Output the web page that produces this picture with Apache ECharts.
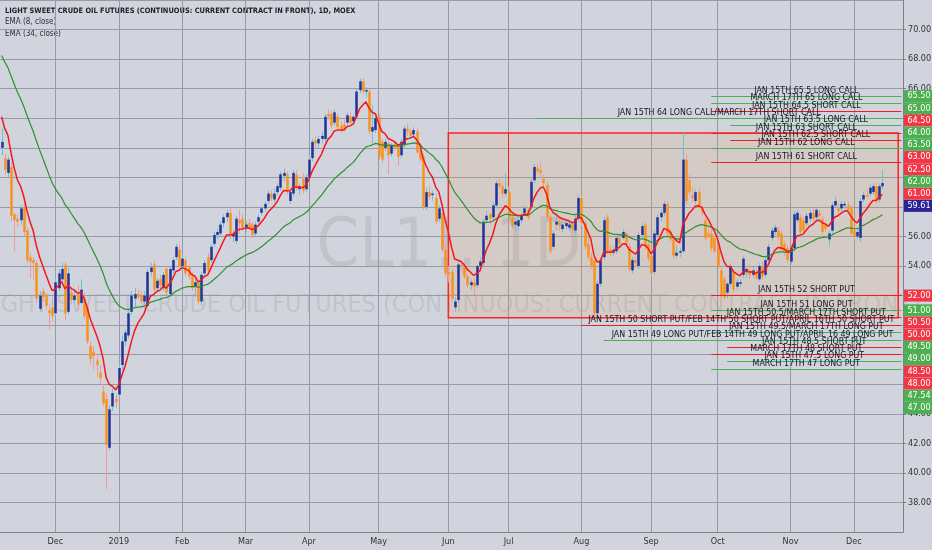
<!DOCTYPE html>
<html>
<head>
<meta charset="utf-8">
<script src="https://cdn.jsdelivr.net/npm/echarts@6/dist/echarts.min.js"></script>
<style>
  html, body { margin: 0; padding: 0; background: #d1d4dc; }
  #main { width: 932px; height: 550px; }
</style>
</head>
<body>
<div id="main"></div>
<script>
// months shown on the time axis and how many daily bars each one holds
var monthKeys  = ['2018-11','2018-12','2019-01','2019-02','2019-03','2019-04','2019-05','2019-06','2019-07','2019-08','2019-09','2019-10','2019-11','2019-12'];
var monthNames = ['Nov','Dec','2019','Feb','Mar','Apr','May','Jun','Jul','Aug','Sep','Oct','Nov','Dec'];
var monthBars  = [17, 20, 20, 20, 20, 22, 22, 19, 23, 22, 21, 23, 20, 10];

// daily bars: [open, high, low, close]
var candles = [
  // Nov 2018
  [62.0,63.3,61.5,62.4],[61.3,61.6,60.2,60.5],[60.3,61.4,60.0,61.2],[60.7,61.0,57.0,57.4],[57.5,57.6,55.0,57.1],
  [57.2,57.5,56.6,57.0],[57.1,58.1,56.8,57.9],[58.0,58.3,56.0,56.3],[56.4,56.6,54.2,54.4],[54.6,54.9,53.2,54.3],
  [54.4,54.6,53.1,54.2],[54.2,54.4,51.5,51.8],[51.1,52.3,50.9,52.0],[52.3,52.5,51.6,51.9],[52.0,52.2,51.0,51.3],
  [51.0,51.4,49.7,50.8],[51.2,51.9,50.2,50.6],
  // Dec 2018
  [50.8,53.2,50.6,52.9],[52.5,53.8,52.3,53.5],[53.1,54.2,52.9,53.8],[54.1,54.3,50.3,50.8],[50.9,53.9,50.7,53.5],
  [52.2,52.6,51.4,51.7],[51.7,52.4,51.5,52.0],[52.1,52.7,51.0,51.4],[51.5,53.1,51.4,52.4],[51.8,52.2,50.4,50.6],
  [51.2,51.4,48.7,48.9],[48.6,48.9,47.3,47.7],[48.2,48.6,47.0,47.9],[47.6,47.9,46.5,47.3],[46.8,47.3,46.0,46.4],
  [45.5,46.0,44.5,44.7],[45.0,45.4,38.9,41.9],[41.7,44.6,41.5,44.3],[44.5,45.7,44.2,45.4],[45.0,45.3,44.4,44.8],
  // Jan 2019
  [45.3,47.4,45.1,47.1],[47.3,49.3,47.0,48.9],[48.9,49.7,48.6,49.5],[49.3,51.0,49.1,50.8],[50.9,52.3,50.7,52.0],
  [51.8,52.5,51.2,52.1],[52.1,52.4,51.7,51.9],[52.0,52.3,51.4,51.6],[51.6,52.3,51.4,52.0],[51.3,53.8,51.2,53.6],
  [53.6,54.2,53.3,53.9],[54.1,54.4,52.2,52.4],[52.5,53.2,52.3,53.0],[53.1,53.4,52.5,52.7],[52.5,53.6,52.3,53.4],
  [53.8,54.0,52.0,52.2],[52.1,54.0,51.9,53.8],[53.7,54.6,53.5,54.4],[54.6,55.5,54.4,55.3],[55.1,55.5,53.8,54.0],
  // Feb
  [54.0,54.7,53.7,54.5],[54.4,54.6,53.3,53.5],[53.9,54.1,53.1,53.3],[53.3,53.6,52.3,52.5],[52.6,53.2,51.9,52.9],
  [52.9,53.0,51.4,51.6],[51.6,53.6,51.3,53.4],[53.5,54.4,53.3,54.2],[54.6,54.9,53.5,53.7],[54.4,55.5,54.2,55.3],
  [55.5,56.3,55.3,56.1],[56.1,56.5,55.8,56.3],[56.2,57.0,56.0,56.8],[56.9,57.5,56.6,57.3],[57.3,57.8,57.0,57.6],
  [57.6,57.9,55.8,56.1],[56.0,56.4,55.6,56.2],[55.7,57.4,55.5,57.2],[57.1,57.8,56.2,56.9],[57.2,57.5,56.4,56.6],
  // Mar
  [56.6,57.0,56.3,56.8],[56.9,57.2,56.4,56.6],[56.8,57.0,55.9,56.1],[56.2,57.0,56.0,56.8],[57.0,57.5,56.8,57.3],
  [57.6,58.1,57.4,57.9],[57.9,58.4,57.7,58.2],[58.4,59.1,58.2,58.9],[58.9,59.1,58.4,58.6],[58.5,59.2,58.3,58.9],
  [59.0,59.6,58.8,59.4],[59.3,60.4,59.1,60.2],[60.1,60.6,59.7,60.3],[60.2,60.4,58.8,59.0],[58.4,59.2,58.2,59.0],
  [58.9,60.5,58.7,60.3],[60.2,60.5,59.1,59.3],[59.2,59.6,58.8,59.4],[59.9,60.3,58.9,59.1],[59.2,60.2,59.0,60.0],
  // Apr
  [60.0,61.5,59.8,61.2],[61.3,62.6,61.1,62.4],[62.5,62.8,62.0,62.3],[62.3,62.8,62.0,62.6],[62.6,63.1,62.3,62.8],
  [62.6,64.3,62.4,64.1],[64.3,64.6,63.9,64.1],[64.3,64.5,63.3,63.5],[63.7,64.6,63.5,64.4],[64.1,64.3,63.2,63.4],
  [63.5,63.8,63.0,63.2],[63.6,63.9,63.1,63.2],[63.7,64.4,63.5,64.2],[64.1,64.4,63.6,63.7],[63.8,64.2,63.6,64.1],
  [64.1,66.0,64.0,65.8],[65.9,66.7,65.7,66.5],[66.5,66.7,65.6,65.8],[65.8,66.1,65.4,65.9],[65.8,66.0,62.9,63.1],
  [63.1,64.9,62.3,63.4],[63.2,64.2,63.0,64.0],
  // May
  [64.1,64.3,61.2,61.4],[62.4,62.6,61.0,61.2],[62.0,62.6,61.8,62.4],[62.3,62.5,60.2,61.5],[61.6,62.3,61.4,62.2],
  [62.2,62.4,61.8,62.0],[62.1,62.3,60.8,61.4],[61.5,62.6,61.3,62.4],[62.2,63.5,62.0,63.3],[63.3,63.6,62.8,63.1],
  [63.1,63.3,62.6,62.8],[62.9,63.4,62.7,63.2],[63.1,63.3,61.6,61.7],[61.8,62.0,61.0,61.2],[61.4,61.6,57.8,58.0],
  [58.0,59.3,57.8,59.0],[59.0,59.4,58.5,58.7],[58.8,59.1,58.4,58.9],[58.6,58.9,56.8,57.0],[57.2,58.1,57.0,57.9],
  [57.6,57.8,54.9,55.1],[55.1,55.4,53.3,53.5],
  // Jun
  [53.6,54.0,52.9,53.4],[53.6,53.8,51.6,51.8],[51.2,51.9,50.9,51.6],[51.7,54.3,51.5,54.1],[54.1,54.4,53.7,54.0],
  [53.9,54.0,53.1,53.3],[53.3,53.5,52.5,52.7],[52.7,53.1,52.4,52.9],[52.9,53.2,52.0,52.6],[52.7,54.1,52.5,54.0],
  [54.0,54.6,53.8,54.3],[54.2,57.2,54.0,57.0],[57.1,57.7,56.9,57.4],[57.5,57.6,56.8,57.2],[57.3,58.3,57.1,58.1],
  [58.1,59.8,57.9,59.6],[59.6,59.9,59.2,59.4],[59.4,59.7,58.6,58.9],[58.9,60.3,58.7,59.2],
  // Jul
  [59.0,59.2,57.1,57.3],[57.3,57.6,56.5,56.7],[56.8,57.3,56.4,57.0],[56.7,57.4,56.4,57.1],[57.1,57.6,56.9,57.4],
  [57.6,58.1,57.5,57.9],[57.8,58.0,57.1,57.3],[58.0,59.9,57.8,59.7],[59.8,60.9,59.6,60.7],[60.6,60.9,60.2,60.4],
  [60.5,61.0,60.1,60.3],[59.9,60.2,59.4,59.6],[59.5,59.7,57.1,57.3],[57.3,57.5,54.8,55.0],[55.3,56.4,55.1,56.2],
  [56.8,57.6,56.4,57.0],[57.0,57.3,56.4,56.7],[56.5,57.0,56.3,56.8],[56.7,57.0,56.5,56.9],[56.6,57.0,56.4,56.8],
  [56.8,57.0,56.3,56.5],[56.4,57.4,56.2,57.2],[57.2,58.8,57.0,58.6],
  // Aug
  [58.6,58.8,56.7,56.9],[56.9,57.1,55.1,55.3],[55.5,56.0,54.4,54.6],[54.6,54.9,53.8,54.0],[54.4,54.6,50.6,50.8],
  [50.8,53.0,50.6,52.8],[52.8,54.6,52.6,54.4],[54.6,57.3,54.4,57.1],[57.3,57.5,54.8,55.0],[55.1,55.4,54.6,54.9],
  [54.9,55.3,54.7,55.1],[55.0,56.0,54.8,55.9],[55.9,56.2,55.3,55.5],[55.9,56.5,55.8,56.3],[56.2,56.4,55.5,55.6],
  [55.3,55.5,53.6,53.8],[53.7,54.6,53.5,54.4],[54.4,54.6,54.0,54.2],[54.0,56.3,53.8,56.1],[56.1,56.9,55.9,56.7],
  [56.8,57.0,55.1,55.3],[55.5,55.7,54.3,54.5],
  // Sep
  [54.7,55.1,53.3,53.5],[53.6,56.4,53.4,56.2],[56.1,57.5,55.9,57.3],[57.3,57.8,57.0,57.6],[57.6,58.4,57.4,58.2],
  [58.2,58.4,56.0,56.2],[56.3,56.5,55.6,55.8],[55.8,56.0,54.5,54.7],[54.7,55.4,54.5,54.9],[54.9,55.2,54.6,55.0],
  [55.0,63.0,54.9,61.2],[61.2,61.6,58.2,58.4],[59.8,60.2,58.8,59.0],[58.8,59.3,58.3,58.6],[58.4,59.2,58.2,59.0],
  [59.0,59.3,57.9,58.1],[57.9,58.1,57.4,57.6],[57.1,57.3,55.7,55.9],[56.2,56.5,55.9,56.0],[56.2,56.5,55.0,55.2],
  [55.9,56.1,54.9,55.0],
  // Oct
  [55.2,55.4,53.8,54.0],[53.7,53.9,51.8,52.0],[53.1,53.3,51.7,51.9],[52.2,52.9,51.8,52.8],[52.8,54.2,52.6,54.0],
  [53.6,53.8,52.2,52.4],[52.6,53.1,52.4,52.9],[52.8,53.1,52.6,52.9],[53.4,54.7,53.2,54.5],[53.6,54.0,53.2,53.8],
  [53.7,54.1,53.1,53.4],[53.4,53.9,53.2,53.7],[53.6,53.8,53.0,53.2],[53.1,54.2,53.0,54.0],[54.0,54.3,53.1,53.3],
  [53.4,54.6,53.2,54.4],[54.4,55.5,54.2,55.3],[55.9,56.6,55.7,56.4],[56.3,56.8,56.1,56.6],[56.4,56.7,55.8,56.0],
  [56.2,56.4,55.0,55.1],[55.5,55.7,54.7,54.9],[55.2,55.4,54.2,54.4],
  // Nov
  [54.3,55.4,54.1,55.2],[55.2,57.7,55.0,57.5],[57.1,57.8,56.9,57.6],[57.3,57.5,56.1,56.3],[57.1,57.3,56.2,56.4],
  [56.9,57.6,56.7,57.4],[57.2,57.8,57.0,57.6],[57.6,57.9,57.0,57.2],[57.3,58.0,57.1,57.8],[57.6,57.8,57.2,57.4],
  [57.2,57.4,56.1,56.3],[56.8,57.0,56.3,56.5],[55.8,56.4,55.3,56.2],[56.4,58.3,56.2,58.1],[58.1,58.7,57.9,58.4],
  [57.9,58.2,57.5,57.7],[57.9,58.4,57.7,58.2],[58.1,58.4,57.9,58.2],[58.1,58.3,57.6,57.8],[57.9,58.1,56.0,56.2],
  // Dec
  [56.4,56.6,55.7,56.0],[56.0,56.5,55.8,56.3],[55.9,58.6,55.6,58.4],[58.5,59.0,58.3,58.8],[58.8,59.1,58.6,58.7],
  [58.9,59.5,58.7,59.3],[59.0,59.6,58.8,59.4],[59.4,59.7,58.2,58.4],[58.5,59.6,58.3,59.4],[59.4,60.5,59.2,59.61]
];
var lastPrice = 59.61;

// EMA values just before the first visible bar
var emaSeed8 = 64.6;
var emaSeed34 = 68.6;

// option strike levels drawn as horizontal lines
var levelValues = [65.5, 65, 64.5, 64, 63.5, 63, 62.5, 62, 61, 52, 51, 50.5, 50, 49.5, 49, 48.5, 48, 47.54, 47];
var levelSides  = ['long','long','short','long','long','short','short','long','short',
                   'short','long','short','short','long','long','short','short','long','long'];
var levelStart  = [224, 224, 224, 169, 230, 224, 230, 224, 224, 224, 224, 224, 183, 224, 190, 229, 224, 229, 224];
var levelTexts  = [
  'JAN 15TH 65.5 LONG CALL',
  'MARCH 17TH 65 LONG CALL',
  'JAN 15TH 64.5 SHORT CALL',
  'JAN 15TH 64 LONG CALL/MARCH 17TH SHORT CALL',
  'JAN 15TH 63.5 LONG CALL',
  'JAN 15TH 63 SHORT CALL',
  'JAN 15TH 62.5 SHORT CALL',
  'JAN 15TH 62 LONG CALL',
  'JAN 15TH 61 SHORT CALL',
  'JAN 15TH 52 SHORT PUT',
  'JAN 15TH 51 LONG PUT',
  'JAN 15TH 50.5/MARCH 17TH SHORT PUT',
  'JAN 15TH 50 SHORT PUT/FEB 14TH 50 SHORT PUT/APRIL 16TH 50 SHORT PUT',
  'JAN 15TH 49.5/MARCH 17TH LONG PUT',
  'JAN 15TH 49 LONG PUT/FEB 14TH 49 LONG PUT/APRIL 16 49 LONG PUT',
  'JAN 15TH 48.5 SHORT PUT',
  'MARCH 17TH 48 SHORT PUT',
  'JAN 15TH 47.5 LONG PUT',
  'MARCH 17TH 47 LONG PUT'
];

// the range box (Jun -> mid Dec, 50.5 .. 63) and the marker line at the start of July
var boxFrom = 141, boxTo = 283, boxLow = 50.5, boxHigh = 63;
var julyMark = 160, julyMarkLow = 59.4;

var padBars = 6;
var NARROW = "'Liberation Sans Narrow', 'DejaVu Sans Condensed', 'Liberation Sans', sans-serif";
var GREEN = '#4caf50', RED = '#f23645', LINE_RED = '#f01e1e';

// build the category axis
var categories = [];
var monthStart = {};
var idx = 0;
monthKeys.forEach(function (k, m) {
    if (m > 0) monthStart[idx] = monthNames[m];
    for (var d = 1; d <= monthBars[m]; d++) {
        categories.push(k + '#' + d);
        idx++;
    }
});
for (var p = 1; p <= padBars; p++) categories.push('pad#' + p);
var lastIndex = categories.length - 1;

function isMonthStart(i) { return monthStart.hasOwnProperty(i); }

function ema(period, seed) {
    var k = 2 / (period + 1);
    var prev = seed;
    return candles.map(function (c) {
        prev = prev + k * (c[3] - prev);
        return +prev.toFixed(3);
    });
}
var ema8 = ema(8, emaSeed8);
var ema34 = ema(34, emaSeed34);

var candleData = candles.map(function (c, i) { return [i, c[0], c[1], c[2], c[3]]; });

function renderCandle(params, api) {
    var i = api.value(0);
    var o = api.value(1), h = api.value(2), l = api.value(3), c = api.value(4);
    var pO = api.coord([i, o]), pC = api.coord([i, c]);
    var pH = api.coord([i, h]), pL = api.coord([i, l]);
    var w = api.size([1, 0])[0] * 0.8;
    var up = c >= o;
    var top = Math.min(pO[1], pC[1]);
    var bot = Math.max(pO[1], pC[1]);
    var x = Math.round(pO[0]) + 0.5;
    return {
        type: 'group',
        children: [
            { type: 'line', shape: { x1: x, y1: pH[1], x2: x, y2: pL[1] },
              style: { stroke: up ? '#6cc3cf' : '#ef9a9a', lineWidth: 1 } },
            { type: 'rect', shape: { x: x - w / 2, y: top, width: w, height: Math.max(bot - top, 1) },
              style: { fill: up ? '#22349a' : '#f7941d' } }
        ]
    };
}

// level lines
var levelLines = levelValues.map(function (v, i) {
    var col = levelSides[i] === 'long' ? GREEN : LINE_RED;
    return [
        { coord: [levelStart[i], v], lineStyle: { color: col, width: 1, type: 'solid' },
          label: { show: true, formatter: levelTexts[i], position: 'insideMiddleTop', distance: 1,
                   color: '#131722', fontSize: 8.8, fontFamily: NARROW } },
        { coord: [lastIndex, v] }
    ];
});
levelLines.push([
    { coord: [julyMark, boxHigh], lineStyle: { color: LINE_RED, width: 1, type: 'solid' }, label: { show: false } },
    { coord: [julyMark, julyMarkLow] }
]);

// price tags on the right scale
var tags = levelValues.map(function (v, i) {
    return { value: v, color: levelSides[i] === 'long' ? GREEN : RED };
});
tags.push({ value: lastPrice, color: '#2b2296' });
tags.sort(function (a, b) { return b.value - a.value; });

function renderTags(params, api) {
    var cs = params.coordSys;
    var x0 = cs.x + cs.width;
    var prev = -Infinity;
    var children = [];
    tags.forEach(function (t) {
        var y = api.coord([0, t.value])[1];
        if (y < prev + 12.2) y = prev + 12.2;
        prev = y;
        children.push({ type: 'rect', shape: { x: x0 + 1, y: y - 6, width: 30, height: 12 },
                        style: { fill: t.color } });
        children.push({ type: 'text', style: { text: t.value.toFixed(2), x: x0 + 16, y: y,
                        align: 'center', verticalAlign: 'middle', fill: '#fff', font: '9px ' + NARROW } });
    });
    return { type: 'group', children: children };
}

var myChart = echarts.init(document.getElementById('main'));

var option = {
    backgroundColor: '#d1d4dc',
    animation: false,
    grid: { left: 0, right: 29, top: 0, bottom: 18, outerBoundsMode: 'none' },
    xAxis: {
        type: 'category',
        data: categories,
        boundaryGap: true,
        axisLine: { show: true, lineStyle: { color: '#7d818b' } },
        axisTick: { show: false, alignWithLabel: true },
        axisLabel: {
            interval: function (i) { return isMonthStart(i); },
            formatter: function (v, i) { return monthStart[i] || ''; },
            color: '#333', fontSize: 9, fontFamily: NARROW, margin: 5
        },
        splitLine: {
            show: true,
            alignWithLabel: true,
            interval: function (i) { return isMonthStart(i); },
            lineStyle: { color: '#969aa4', width: 1 }
        }
    },
    yAxis: {
        type: 'value',
        position: 'right',
        min: 36,
        max: 72,
        interval: 2,
        axisLine: { show: true, lineStyle: { color: '#7d818b' } },
        axisTick: { show: true, length: 3, lineStyle: { color: '#7d818b' } },
        axisLabel: {
            showMinLabel: false,
            showMaxLabel: false,
            formatter: function (v) { return v.toFixed(2); },
            color: '#333', fontSize: 9, fontFamily: NARROW, margin: 5
        },
        splitLine: { show: true, lineStyle: { color: '#969aa4', width: 1 } }
    },
    graphic: [
        { type: 'text', x: 449, y: 248, silent: true,
          style: { text: 'CL1!, 1D', fill: 'rgba(0,0,0,0.08)', font: '68px ' + NARROW,
                   align: 'center', verticalAlign: 'middle' } },
        { type: 'text', x: 451, y: 305, silent: true,
          style: { text: 'LIGHT SWEET CRUDE OIL FUTURES (CONTINUOUS: CURRENT CONTRACT IN FRONT)',
                   fill: 'rgba(0,0,0,0.08)', font: '25px ' + NARROW, align: 'center', verticalAlign: 'middle' } },
        { type: 'text', x: 5, y: 11, silent: true,
          style: { text: 'LIGHT SWEET CRUDE OIL FUTURES (CONTINUOUS: CURRENT CONTRACT IN FRONT), 1D, MOEX',
                   fill: '#1c1f26', font: 'bold 7.4px ' + NARROW, verticalAlign: 'middle' } },
        { type: 'text', x: 5, y: 22, silent: true,
          style: { text: 'EMA (8, close)', fill: '#2a2d35', font: '8px ' + NARROW, verticalAlign: 'middle' } },
        { type: 'text', x: 5, y: 34, silent: true,
          style: { text: 'EMA (34, close)', fill: '#2a2d35', font: '8px ' + NARROW, verticalAlign: 'middle' } }
    ],
    series: [
        {
            name: 'CL1!',
            type: 'custom',
            z: 2,
            silent: true,
            renderItem: renderCandle,
            encode: { x: 0, y: [1, 2, 3, 4] },
            data: candleData,
            markArea: {
                silent: true,
                itemStyle: { color: 'rgba(235,150,60,0.13)', borderColor: '#f22', borderWidth: 1.5 },
                data: [[{ coord: [boxFrom, boxHigh] }, { coord: [boxTo, boxLow] }]]
            },
            markLine: {
                silent: true,
                symbol: ['none', 'none'],
                data: levelLines
            }
        },
        {
            name: 'EMA (34, close)',
            type: 'line',
            z: 3,
            data: ema34,
            showSymbol: false,
            silent: true,
            lineStyle: { color: '#2f8f2f', width: 1.2 }
        },
        {
            name: 'EMA (8, close)',
            type: 'line',
            z: 4,
            data: ema8,
            showSymbol: false,
            silent: true,
            lineStyle: { color: '#f5161b', width: 1.5 }
        },
        {
            name: 'tags',
            type: 'custom',
            z: 20,
            clip: false,
            silent: true,
            renderItem: renderTags,
            encode: { x: 0, y: 1 },
            data: [[0, lastPrice]]
        }
    ]
};

myChart.setOption(option);
</script>
</body>
</html>
